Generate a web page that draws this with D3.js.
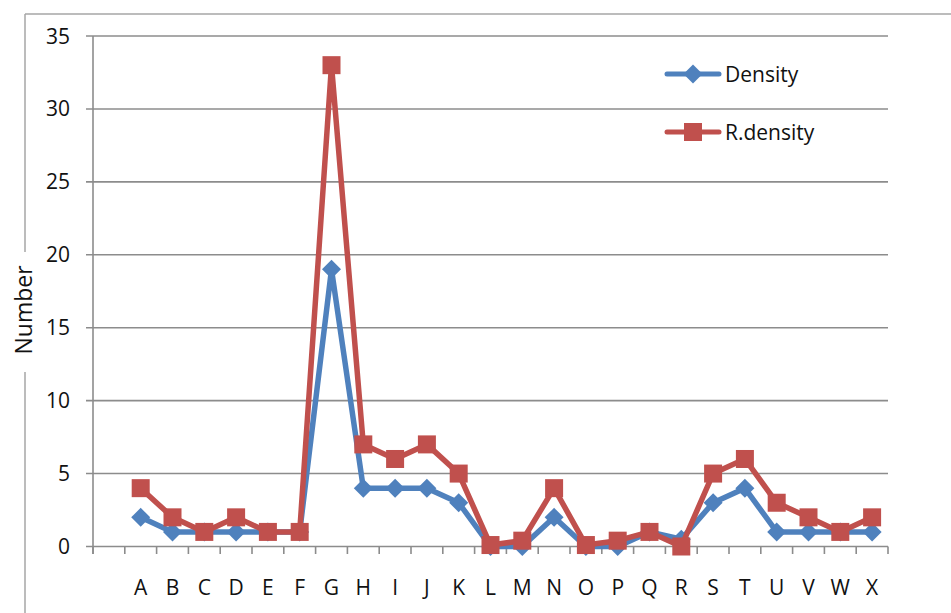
<!DOCTYPE html>
<html><head><meta charset="utf-8">
<script src="https://cdn.jsdelivr.net/npm/d3@7"></script>
<style>body{margin:0;background:#fff}svg{display:block}text{font-family:"Open Sans",sans-serif;fill:#111}</style>
</head><body>
<svg id="c" width="951" height="613"></svg>
<script>
const categories = ["", "A","B","C","D","E","F","G","H","I","J","K","L","M","N","O","P","Q","R","S","T","U","V","W","X"];
const density  = [null, 2,1,1,1,1,1,19,4,4,4,3,0,0,2,0,0,1,0.5,3,4,1,1,1,1];
const rdensity = [null, 4,2,1,2,1,1,33,7,6,7,5,0.1,0.4,4,0.1,0.4,1,0,5,6,3,2,1,2];
const yTicks = [0,5,10,15,20,25,30,35];
const seriesNames = ["Density","R.density"];
const colors = ["#4F81BD","#C0504D"];

const svg = d3.select("#c");
const x = d3.scaleBand().domain(categories).range([93, 888]).padding(0);
const y = d3.scaleLinear().domain([0, 35]).range([546.5, 36]);

// outer frame
svg.append("line").attr("x1",25).attr("x2",951).attr("y1",14).attr("y2",14).attr("stroke","#a6a6a6").attr("stroke-width",1.5);
svg.append("line").attr("x1",25).attr("x2",25).attr("y1",14).attr("y2",252).attr("stroke","#a6a6a6").attr("stroke-width",1.5);
svg.append("line").attr("x1",25).attr("x2",25).attr("y1",372).attr("y2",613).attr("stroke","#a6a6a6").attr("stroke-width",1.5);

// gridlines
svg.append("g").selectAll("line").data(yTicks).join("line")
  .attr("x1",86).attr("x2",888).attr("y1",d=>y(d)).attr("y2",d=>y(d))
  .attr("stroke","#8c8c8c").attr("stroke-width",1.6);
// y axis line
svg.append("line").attr("x1",93).attr("x2",93).attr("y1",y(35)).attr("y2",554).attr("stroke","#8c8c8c").attr("stroke-width",1.6);
// y tick labels
svg.append("g").selectAll("text").data(yTicks).join("text")
  .attr("x",70).attr("y",d=>y(d)).attr("dy","0.36em").attr("text-anchor","end")
  .style("font-size","21px").text(d=>d);
// x ticks at band edges
const edges = categories.map(c=>x(c)).concat([x.range()[1]]);
svg.append("g").selectAll("line").data(edges).join("line")
  .attr("x1",d=>d).attr("x2",d=>d).attr("y1",y(0)).attr("y2",554)
  .attr("stroke","#8c8c8c").attr("stroke-width",1.6);
// x labels
svg.append("g").selectAll("text").data(categories).join("text")
  .attr("x",d=>x(d)+x.bandwidth()/2).attr("y",587).attr("dy","0.36em").attr("text-anchor","middle")
  .style("font-size","21px").text(d=>d);

// y axis title
svg.append("text").attr("transform","translate(32,310) rotate(-90)").attr("text-anchor","middle")
  .style("font-size","23px").text("Number");

const cx = (d,i)=>x(categories[i])+x.bandwidth()/2;
const line = d3.line().defined(d=>d!==null).x(cx).y(d=>y(d));
const diamond = d3.symbol().type(d3.symbolDiamond2).size(230);

function drawSeries(vals, color, kind){
  svg.append("path").datum(vals).attr("d",line).attr("fill","none")
    .attr("stroke",color).attr("stroke-width",5.5).attr("stroke-linejoin","round");
  const pts = vals.map((v,i)=>({v,i})).filter(p=>p.v!==null);
  if(kind==="diamond"){
    svg.append("g").selectAll("path").data(pts).join("path")
      .attr("d",diamond).attr("transform",p=>`translate(${cx(p.v,p.i)},${y(p.v)})`).attr("fill",color);
  } else {
    svg.append("g").selectAll("rect").data(pts).join("rect")
      .attr("x",p=>cx(p.v,p.i)-9).attr("y",p=>y(p.v)-9).attr("width",18).attr("height",18).attr("fill",color);
  }
}
drawSeries(density, colors[0], "diamond");
drawSeries(rdensity, colors[1], "square");

// legend
const leg = [{n:seriesNames[0],c:colors[0],k:"diamond",y:74},{n:seriesNames[1],c:colors[1],k:"square",y:132}];
leg.forEach(l=>{
  svg.append("line").attr("x1",667).attr("x2",719).attr("y1",l.y).attr("y2",l.y).attr("stroke",l.c).attr("stroke-width",5).attr("stroke-linecap","round");
  if(l.k==="diamond") svg.append("path").attr("d",diamond).attr("transform",`translate(693,${l.y})`).attr("fill",l.c);
  else svg.append("rect").attr("x",684).attr("y",l.y-9).attr("width",18).attr("height",18).attr("fill",l.c);
  svg.append("text").attr("x",725).attr("y",l.y).attr("dy","0.36em").style("font-size","21px").text(l.n);
});
</script>
</body></html>
